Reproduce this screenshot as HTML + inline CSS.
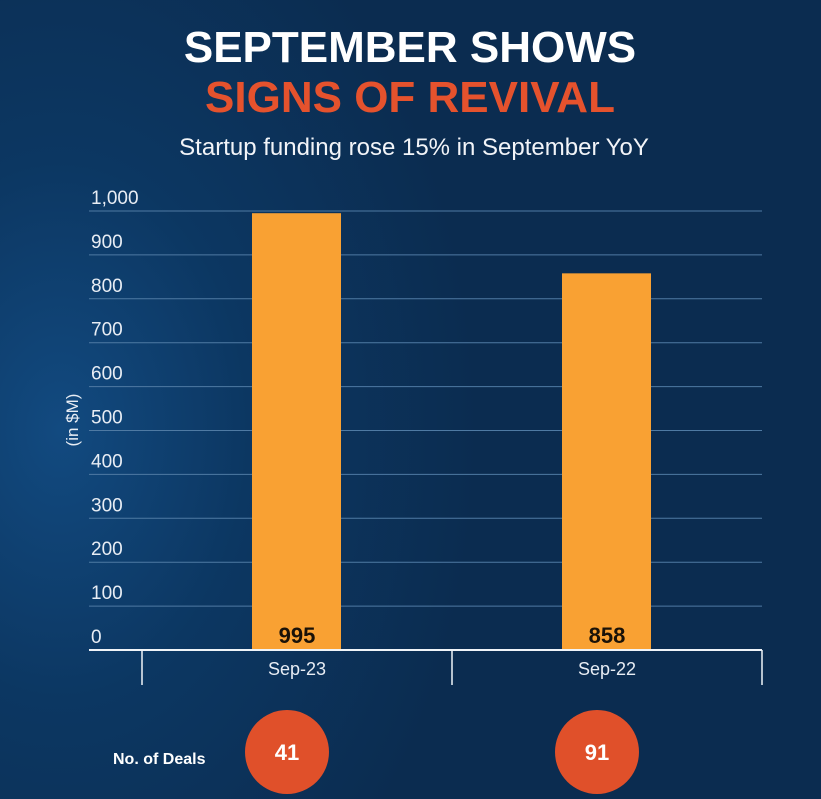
<!DOCTYPE html>
<html><head><meta charset="utf-8"><style>
body{margin:0;width:821px;height:799px;overflow:hidden;font-family:"Liberation Sans",sans-serif;}
#bg{position:absolute;left:0;top:0;width:821px;height:799px;background:radial-gradient(ellipse 420px 600px at 60px 430px,#124a80 0%,#0c3762 45%,#0b2c50 100%);}
</style></head><body>
<div id="bg"></div>
<svg width="821" height="799" style="position:absolute;left:0;top:0">
<text x="410" y="62" text-anchor="middle" font-size="44" font-weight="bold" fill="#fff" font-family="Liberation Sans Narrow, Liberation Sans, sans-serif">SEPTEMBER SHOWS</text>
<text x="410" y="112" text-anchor="middle" font-size="44" font-weight="bold" fill="#e5522d" font-family="Liberation Sans Narrow, Liberation Sans, sans-serif">SIGNS OF REVIVAL</text>
<text x="414" y="155" text-anchor="middle" font-size="24" fill="#f2f4f8">Startup funding rose 15% in September YoY</text>
<text transform="translate(78,420) rotate(-90)" text-anchor="middle" font-size="17" fill="#e8edf4">(in $M)</text>
<text x="113" y="764" font-size="16" font-weight="bold" fill="#fff">No. of Deals</text>
<g id="g"></g>
</svg>
<script>
const categories=["Sep-23","Sep-22"];
const values=[995,858];
const deals=[41,91];
const ticks=[0,100,200,300,400,500,600,700,800,900,1000];
const tickLabels=["0","100","200","300","400","500","600","700","800","900","1,000"];
const y0=650,yTop=211,max=1000;
const y=v=>y0-(y0-yTop)*v/max;
const x=i=>142+310*i+155;
const g=document.getElementById('g');
const NS="http://www.w3.org/2000/svg";
function mk(t,a,txt){const e=document.createElementNS(NS,t);for(const k in a)e.setAttribute(k,a[k]);if(txt!==undefined)e.textContent=txt;g.appendChild(e);return e;}
ticks.forEach((t,i)=>{
 if(t>0){const l=mk('line',{x1:89,x2:762,y1:y(t),y2:y(t),stroke:'#4f7aa3','stroke-width':1});
 
 }
 const tx=mk('text',{x:91,y:y(t)-7,'font-size':19,fill:'#e8edf4'},tickLabels[i]);
 
 
});
categories.forEach((c,i)=>{
 const cx=x(i);
 const b=mk('rect',{x:cx-45,y:y(values[i]),width:89,height:y0-y(values[i]),fill:'#f9a133'});
 
 
 const v=mk('text',{x:cx,y:y0-7,'text-anchor':'middle','font-size':22,'font-weight':'bold',fill:'#1a1208'},String(values[i]));
 
 
 const xl=mk('text',{x:cx,y:675,'text-anchor':'middle','font-size':18,fill:'#e8edf4'},c);
 
 
 const ci=mk('circle',{cx:cx-10,cy:752,r:42,fill:'#e0502a'});
 
 
 const dt=mk('text',{x:cx-10,y:760,'text-anchor':'middle','font-size':22,'font-weight':'bold',fill:'#fff'},String(deals[i]));
 
 
});
const ax=mk('line',{x1:89,x2:762,y1:y0,y2:y0,stroke:'#f0f4f8','stroke-width':2});


[142,452,762].forEach(px=>{
 const t=mk('line',{x1:px,x2:px,y1:y0,y2:685,stroke:'#f0f4f8','stroke-width':1.5});
 
 
});
</script>
</body></html>
